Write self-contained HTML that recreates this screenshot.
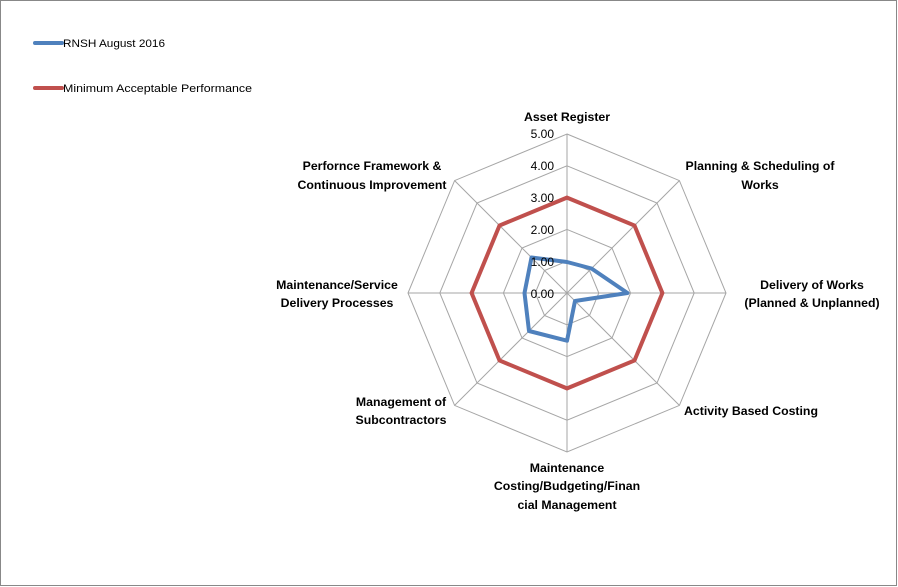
<!DOCTYPE html>
<html><head><style>
html,body{margin:0;padding:0;background:#fff;}
svg{display:block;font-family:"Liberation Sans",sans-serif;}
.l{font-size:12.3px;font-weight:bold;fill:#000;}
.a{font-size:12px;fill:#000;}
.g{font-size:11px;fill:#000;}
</style></head><body>
<svg width="898" height="587" viewBox="0 0 898 587">
<rect x="0.5" y="0.5" width="896" height="585" fill="#fff" stroke="#888"/>
<g stroke="#a6a6a6" stroke-width="1" fill="none">
<polygon points="567,134 679.4,180.6 726,293 679.4,405.4 567,452 454.6,405.4 408,293 454.6,180.6"/>
<polygon points="567,165.8 657,203 694.2,293 657,383 567,420.2 477,383 439.8,293 477,203"/>
<polygon points="567,197.6 634.5,225.5 662.4,293 634.5,360.5 567,388.4 499.5,360.5 471.6,293 499.5,225.5"/>
<polygon points="567,229.4 612,248 630.6,293 612,338 567,356.6 522,338 503.4,293 522,248"/>
<polygon points="567,261.2 589.5,270.5 598.8,293 589.5,315.5 567,324.8 544.5,315.5 535.2,293 544.5,270.5"/>
<line x1="567" y1="293" x2="567" y2="134"/><line x1="567" y1="293" x2="679.4" y2="180.6"/>
<line x1="567" y1="293" x2="726" y2="293"/><line x1="567" y1="293" x2="679.4" y2="405.4"/>
<line x1="567" y1="293" x2="567" y2="452"/><line x1="567" y1="293" x2="454.6" y2="405.4"/>
<line x1="567" y1="293" x2="408" y2="293"/><line x1="567" y1="293" x2="454.6" y2="180.6"/>
</g>
<polygon points="567,197.6 634.5,225.5 662.4,293 634.5,360.5 567,388.4 499.5,360.5 471.6,293 499.5,225.5" fill="none" stroke="#c0504d" stroke-width="4" stroke-linejoin="miter"/>
<polygon points="567,262 591.5,268.5 627.5,293 575,301 567,340.7 529,331 524.5,293 531.5,257.5" fill="none" stroke="#4f81bd" stroke-width="4" stroke-linejoin="round"/>
<g class="a" text-anchor="end">
<text x="554" y="138">5.00</text><text x="554" y="170">4.00</text><text x="554" y="202">3.00</text>
<text x="554" y="234">2.00</text><text x="554" y="266">1.00</text><text x="554" y="298">0.00</text>
</g>
<g class="l" text-anchor="middle">
<text x="567" y="121">Asset Register</text>
<text x="760" y="170">Planning &amp; Scheduling of</text><text x="760" y="189">Works</text>
<text x="812" y="289">Delivery of Works</text><text x="812" y="307">(Planned &amp; Unplanned)</text>
<text x="751" y="415">Activity Based Costing</text>
<text x="567" y="472">Maintenance</text><text x="567" y="490">Costing/Budgeting/Finan</text><text x="567" y="509">cial Management</text>
<text x="401" y="406">Management of</text><text x="401" y="424">Subcontractors</text>
<text x="337" y="289">Maintenance/Service</text><text x="337" y="307">Delivery Processes</text>
<text x="372" y="170">Perfornce Framework &amp;</text><text x="372" y="189">Continuous Improvement</text>
</g>
<line x1="35" y1="43" x2="62" y2="43" stroke="#4f81bd" stroke-width="4" stroke-linecap="round"/>
<text x="63" y="47" class="g" textLength="102" lengthAdjust="spacingAndGlyphs">RNSH August 2016</text>
<line x1="35" y1="88" x2="62" y2="88" stroke="#c0504d" stroke-width="4" stroke-linecap="round"/>
<text x="63" y="92" class="g" textLength="189" lengthAdjust="spacingAndGlyphs">Minimum Acceptable Performance</text>
</svg>
</body></html>
